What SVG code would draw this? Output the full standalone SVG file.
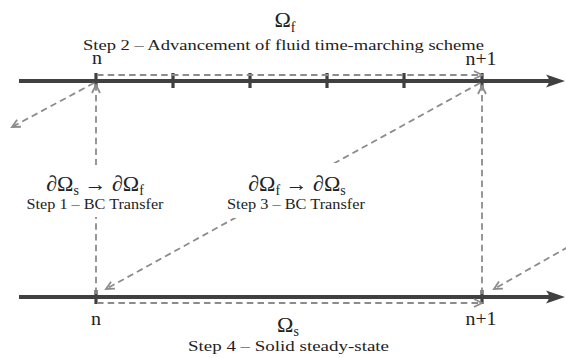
<svg xmlns="http://www.w3.org/2000/svg" width="566" height="358" viewBox="0 0 566 358">
<style>
.axis{stroke:#404040;stroke-width:4;fill:none}
.tick{stroke:#404040;stroke-width:3.2}
.head{fill:#404040}
.dash{stroke:#8c8c8c;stroke-width:1.8;fill:none;stroke-dasharray:6.5,4.2}
.t{font-family:"Liberation Serif","Times New Roman",serif;fill:#222;text-anchor:middle}
.lab{font-size:15px}
.nl{font-size:18px}
.big{font-size:22px}
.sub{font-size:14px}
.bg{fill:#fff}
</style>
<defs>
<marker id="chev" markerUnits="userSpaceOnUse" markerWidth="12" markerHeight="12" refX="9" refY="5" orient="auto" viewBox="0 0 12 10">
<path d="M1,1 L9,5 L1,9" fill="none" stroke="#8c8c8c" stroke-width="1.8"/>
</marker>
</defs>
<rect width="566" height="358" fill="#fff"/>

<g id="fluid-axis">
<line class="axis" x1="19" y1="81" x2="556" y2="81"/>
<path class="head" d="M565,81 L546,74.5 Q552,81 546,87.5 Z"/>
<line class="tick" x1="96" y1="73" x2="96" y2="88"/>
<line class="tick" x1="173" y1="73" x2="173" y2="88"/>
<line class="tick" x1="250" y1="73" x2="250" y2="88"/>
<line class="tick" x1="327" y1="73" x2="327" y2="88"/>
<line class="tick" x1="404" y1="73" x2="404" y2="88"/>
<line class="tick" x1="482" y1="73" x2="482" y2="88"/>
<text class="t nl" x="97" y="64" textLength="10" lengthAdjust="spacingAndGlyphs">n</text>
<text class="t nl" x="481" y="65" textLength="31" lengthAdjust="spacingAndGlyphs">n+1</text>
</g>

<g id="solid-axis">
<line class="axis" x1="19" y1="297" x2="556" y2="297"/>
<path class="head" d="M565,297 L546,290.5 Q552,297 546,303.5 Z"/>
<line class="tick" x1="96" y1="290" x2="96" y2="304"/>
<line class="tick" x1="482" y1="290" x2="482" y2="304"/>
<text class="t nl" x="96" y="325" textLength="10" lengthAdjust="spacingAndGlyphs">n</text>
<text class="t nl" x="481" y="325" textLength="31" lengthAdjust="spacingAndGlyphs">n+1</text>
</g>

<g id="connectors">
<line class="dash" x1="97" y1="75" x2="482" y2="75" marker-end="url(#chev)"/>
<line class="dash" x1="97" y1="303" x2="482" y2="303" marker-end="url(#chev)"/>
<line class="dash" x1="96" y1="294" x2="96" y2="85" marker-end="url(#chev)"/>
<line class="dash" x1="482" y1="294" x2="482" y2="86" marker-end="url(#chev)"/>
<line class="dash" x1="480" y1="83" x2="106" y2="289" marker-end="url(#chev)"/>
<line class="dash" x1="94" y1="83" x2="12" y2="127" marker-end="url(#chev)"/>
<line class="dash" x1="568" y1="247" x2="494" y2="289" marker-end="url(#chev)"/>
</g>

<g id="omega-f">
<text class="t big" x="285" y="27">Ω<tspan class="sub" dy="5">f</tspan></text>
<text class="t lab" x="283.5" y="50" textLength="401" lengthAdjust="spacingAndGlyphs">Step 2 – Advancement of fluid time-marching scheme</text>
</g>

<g id="step1">
<rect class="bg" x="22" y="165" width="146" height="52"/>
<text class="t big" x="95" y="191">∂Ω<tspan class="sub" dy="4">s</tspan><tspan dy="-4"> → ∂Ω</tspan><tspan class="sub" dy="4">f</tspan></text>
<text class="t lab" x="95" y="209" textLength="137" lengthAdjust="spacingAndGlyphs">Step 1 – BC Transfer</text>
</g>

<g id="step3">
<rect class="bg" x="223" y="163" width="148" height="55"/>
<text class="t big" x="297" y="191">∂Ω<tspan class="sub" dy="4">f</tspan><tspan dy="-4"> → ∂Ω</tspan><tspan class="sub" dy="4">s</tspan></text>
<text class="t lab" x="296" y="209" textLength="138" lengthAdjust="spacingAndGlyphs">Step 3 – BC Transfer</text>
</g>

<g id="omega-s">
<text class="t big" x="288" y="332">Ω<tspan class="sub" dy="4">s</tspan></text>
<text class="t lab" x="288.5" y="351" textLength="201" lengthAdjust="spacingAndGlyphs">Step 4 – Solid steady-state</text>
</g>
</svg>
